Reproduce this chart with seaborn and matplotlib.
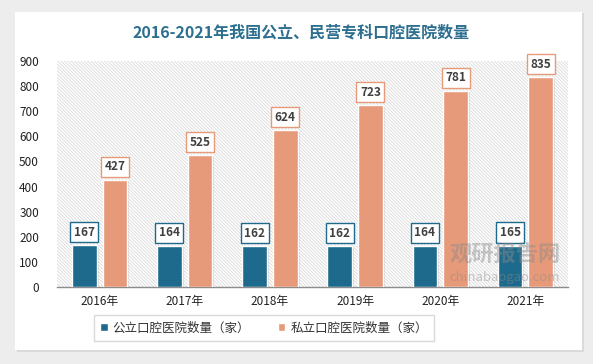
import numpy as np
import pandas as pd
import seaborn as sns
import matplotlib.pyplot as plt
from matplotlib.patches import Rectangle

# data
years = ["2016年", "2017年", "2018年", "2019年", "2020年", "2021年"]
public = [167, 164, 162, 162, 164, 165]
private = [427, 525, 624, 723, 781, 835]
series = ["公立口腔医院数量（家）", "私立口腔医院数量（家）"]
colors = ["#1E6A8D", "#E79A79"]

df = pd.DataFrame({"year": years * 2,
                   "value": public + private,
                   "type": [series[0]] * 6 + [series[1]] * 6})

sns.set_theme(style="white")
plt.rcParams["font.family"] = ["Noto Sans CJK SC", "DejaVu Sans"]
plt.rcParams["hatch.linewidth"] = 0.5

fig = plt.figure(figsize=(5.93, 3.64), dpi=100)
fig.patch.set_facecolor("#EDEDED")
# white card with soft shadow
fig.patches.append(Rectangle((17 / 593, 1 - 352 / 364), 567 / 593, 339 / 364,
                             transform=fig.transFigure, facecolor="#DADADA",
                             edgecolor="none", zorder=-2))
fig.patches.append(Rectangle((15 / 593, 1 - 350 / 364), 567 / 593, 338 / 364,
                             transform=fig.transFigure, facecolor="white",
                             edgecolor="none", zorder=-1))

ax = fig.add_axes([57 / 593, 1 - 287 / 364, 511 / 593, 226 / 364])
ax.set_zorder(1)
ax.set_facecolor("none")
# hatched plot background
ax.add_patch(Rectangle((0, 0), 1, 1, transform=ax.transAxes, facecolor="white",
                       edgecolor="#D2D2D2", hatch="\\" * 10, linewidth=0, zorder=0))

sns.barplot(data=df, x="year", y="value", hue="type", palette=colors,
            saturation=1, width=0.72, gap=0.2, ax=ax, zorder=3, legend=True)

for cont, col in zip(ax.containers, colors):
    for bar in cont:
        x = bar.get_x() + bar.get_width() / 2
        h = bar.get_height()
        # shadow
        ax.add_patch(Rectangle((bar.get_x() + 0.025, 0), bar.get_width(), h - 6,
                               facecolor="#A8A8A8", alpha=0.35, edgecolor="none", zorder=2))
        ax.text(x, h + 52, f"{int(h)}", ha="center", va="center", fontsize=8.5,
                fontweight="bold", color="#404040", zorder=5,
                bbox=dict(boxstyle="square,pad=0.3", facecolor="white", edgecolor=col,
                          linewidth=1.0))

ax.set_ylim(0, 900)
ax.set_xlim(-0.5, 5.5)
ax.set_yticks(range(0, 901, 100))
ax.set_xlabel("")
ax.set_ylabel("")
ax.tick_params(axis="both", labelsize=8.5, colors="#222222", length=0, pad=6)
ax.tick_params(axis="y", pad=13)
for s in ["top", "right", "left"]:
    ax.spines[s].set_visible(False)
ax.spines["bottom"].set_color("#8C8C8C")
ax.spines["bottom"].set_linewidth(1)

leg = ax.legend(loc="center", bbox_to_anchor=(264 / 593, 1 - 328 / 364),
                bbox_transform=fig.transFigure, ncol=2, fontsize=9,
                frameon=True, fancybox=False, edgecolor="#D0D0D0",
                handlelength=0.6, handleheight=0.6, handletextpad=0.4,
                columnspacing=2.2, borderpad=0.5)
for t in leg.get_texts():
    t.set_color("#333333")

fig.text(301 / 593, 1 - 33 / 364, "2016-2021年我国公立、民营专科口腔医院数量",
         ha="center", va="center", fontsize=11.5, fontweight="bold", color="#2C6F8F")

# watermark
fig.text(505 / 593, 1 - 255 / 364, "观研报告网", ha="center", va="center",
         fontsize=16, fontweight="bold", color="#8A8A8A", alpha=0.45, zorder=10)
fig.text(505 / 593, 1 - 277 / 364, "chinabaogao.com", ha="center", va="center",
         fontsize=9.5, color="#8A8A8A", alpha=0.45, zorder=10)

fig.savefig("out.png", dpi=100, facecolor=fig.get_facecolor())
